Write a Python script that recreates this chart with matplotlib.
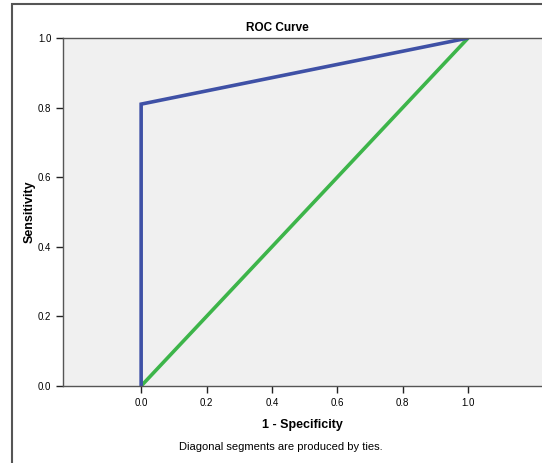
import matplotlib
matplotlib.use("Agg")
import matplotlib.pyplot as plt
from matplotlib.patches import Rectangle

plt.rcParams['font.family'] = ['Liberation Sans', 'DejaVu Sans']

# ROC data
fpr = [0.0, 0.0, 1.0]
tpr = [0.0, 0.81, 1.0]
ref_x = [0.0, 1.0]
ref_y = [0.0, 1.0]
ticks = [0.0, 0.2, 0.4, 0.6, 0.8, 1.0]
tick_labels = ['0.0', '0.2', '0.4', '0.6', '0.8', '1.0']

fig = plt.figure(figsize=(5.42, 4.63), dpi=100)
fig.patch.set_facecolor('white')

# outer chart frame
fig.patches.append(Rectangle((12 / 542, -0.05), 1.2, 1 - 4 / 463 + 0.05,
                             transform=fig.transFigure, fill=False,
                             edgecolor='#555555', linewidth=1.5))

ax = fig.add_axes([63 / 542, 1 - 386 / 463, 1 - 63 / 542, (386 - 38) / 463])
ax.set_facecolor('#F0F0F0')

ax.plot(ref_x, ref_y, color='#3DB54A', linewidth=2.6, solid_capstyle='butt')
ax.plot(fpr, tpr, color='#3F51A6', linewidth=2.6, solid_capstyle='butt',
        solid_joinstyle='miter')

ax.set_xlim(-0.239, 1.226)
ax.set_ylim(0, 1)
ax.set_xticks(ticks)
ax.set_xticklabels(tick_labels)
ax.set_yticks(ticks)
ax.set_yticklabels(tick_labels)
ax.tick_params(direction='out', length=5, width=1, labelsize=7, color='#222222')

for side in ['left', 'bottom', 'top']:
    ax.spines[side].set_color('#555555')
    ax.spines[side].set_linewidth(1)
ax.spines['right'].set_visible(False)

ax.set_title('ROC Curve', fontsize=8.5, fontweight='bold', pad=5,
             x=(277 - 63) / 479)
ax.set_xlabel('1 - Specificity', fontsize=9, fontweight='bold', labelpad=8)
ax.set_ylabel('Sensitivity', fontsize=9, fontweight='bold')
ax.yaxis.set_label_coords((36 - 63) / 479, 0.5)

fig.text(281 / 542, 1 - 447 / 463, 'Diagonal segments are produced by ties.',
         fontsize=8, ha='center', va='center')

fig.savefig('out.png', dpi=100)
